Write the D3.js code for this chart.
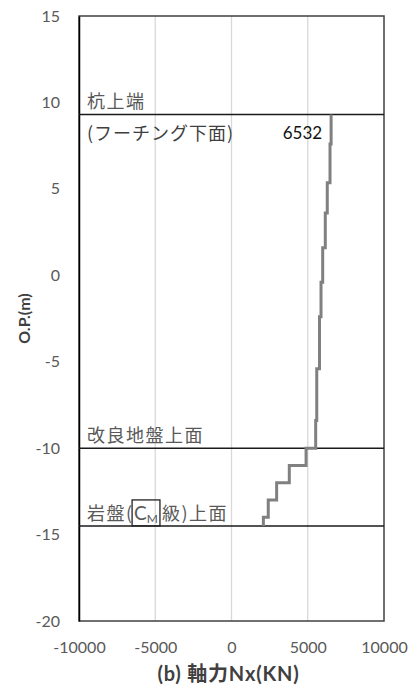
<!DOCTYPE html>
<html><head><meta charset="utf-8">
<script src="https://cdn.jsdelivr.net/npm/d3@7"></script>
<style>body{margin:0;background:#fff}svg{display:block}</style>
</head><body>
<script>
// Data
const stepTops = [9.3, 7.6, 5.35, 3.6, 1.6, -0.4, -2.4, -5.4, -8.4, -10, -11, -12, -13, -14];
const stepBottoms = [7.6, 5.35, 3.6, 1.6, -0.4, -2.4, -5.4, -8.4, -10, -11, -12, -13, -14, -14.5];
const axialForce = [6532, 6460, 6280, 6150, 5980, 5870, 5770, 5590, 5520, 4890, 3790, 2960, 2410, 2090];
const levelNames = ["杭上端", "改良地盤上面", "岩盤上面"];
const levelValues = [9.3, -10, -14.5];
const xTicks = [-10000, -5000, 0, 5000, 10000];
const yTicks = [15, 10, 5, 0, -5, -10, -15, -20];
const gridX = [-5000, 0, 5000];

const W = 413, H = 693;
const m = {l: 79, r: 29, t: 16, b: 72};
const svg = d3.select("body").append("svg").attr("width", W).attr("height", H);
const x = d3.scaleLinear().domain([-10000, 10000]).range([m.l, W - m.r]);
const y = d3.scaleLinear().domain([-20, 15]).range([H - m.b, m.t]);
const numFont = "Lato, 'Noto Sans CJK JP', sans-serif";
const jpFont = "'Noto Sans CJK JP', sans-serif";

// grid
svg.append("g").selectAll("line").data(gridX).join("line")
  .attr("x1", d => x(d)).attr("x2", d => x(d))
  .attr("y1", y(15)).attr("y2", y(-20))
  .attr("stroke", "#d9d9d9").attr("stroke-width", 1.3);

// frame
svg.append("rect").attr("x", x(-10000)).attr("y", y(15))
  .attr("width", x(10000) - x(-10000)).attr("height", y(-20) - y(15))
  .attr("fill", "none").attr("stroke", "#404040").attr("stroke-width", 1.5);

// axes
const ya = svg.append("g").attr("transform", `translate(${x(-10000)},0)`)
  .call(d3.axisLeft(y).tickValues(yTicks).tickFormat(d => String(d)).tickSize(0).tickPadding(19));
ya.select(".domain").attr("stroke", "#000").attr("stroke-width", 1.5);
ya.selectAll("text").attr("font-family", numFont).attr("font-size", 16).attr("fill", "#595959");

const xa = svg.append("g").attr("transform", `translate(0,${y(-20)})`)
  .call(d3.axisBottom(x).tickValues(xTicks).tickFormat(d => String(d)).tickSize(0).tickPadding(21));
xa.select(".domain").remove();
xa.selectAll("text").attr("font-family", numFont).attr("font-size", 16).attr("fill", "#595959");

// level lines
svg.append("g").selectAll("line").data(levelValues).join("line")
  .attr("x1", x(-10000)).attr("x2", x(10000))
  .attr("y1", d => y(d)).attr("y2", d => y(d))
  .attr("stroke", "#1a1a1a").attr("stroke-width", 1.5);

// step line
const pts = [];
axialForce.forEach((v, i) => { pts.push([v, stepTops[i]]); pts.push([v, stepBottoms[i]]); });
svg.append("path").datum(pts)
  .attr("d", d3.line().x(d => x(d[0])).y(d => y(d[1])))
  .attr("fill", "none").attr("stroke", "#808080").attr("stroke-width", 3);

// labels
const lx = x(-10000) + 8;
const jp = (sel) => sel.attr("font-family", jpFont).attr("font-size", 18)
  .attr("letter-spacing", 1.5).attr("fill", "#595959");
svg.append("text").attr("x", lx).attr("y", y(levelValues[0]) - 7).call(jp).text(levelNames[0]);
svg.append("text").attr("x", lx).attr("y", y(levelValues[0]) + 25).call(jp)
  .attr("letter-spacing", 1).attr("fill", "#404040").text("(フーチング下面)");
svg.append("text").attr("x", x(axialForce[0]) - 9).attr("y", y(levelValues[0]) + 24)
  .attr("text-anchor", "end").attr("font-family", numFont).attr("font-size", 17)
  .attr("fill", "#111").text(axialForce[0]);
svg.append("text").attr("x", lx).attr("y", y(levelValues[1]) - 6).call(jp).text(levelNames[1]);

const t3 = svg.append("text").attr("x", lx).attr("y", y(levelValues[2]) - 6).call(jp)
  .attr("letter-spacing", 0);
t3.append("tspan").attr("letter-spacing", 1.5).text("岩盤");
t3.append("tspan").text("(");
const cm = t3.append("tspan").attr("dx", 2).attr("font-family", numFont).attr("font-size", 19).text("C");
t3.append("tspan").attr("dy", 3).attr("font-family", numFont).attr("font-size", 12).text("M");
t3.append("tspan").attr("dx", 4).attr("dy", -3).attr("letter-spacing", 1.5).text("級)上面");
// box around CM
const n0 = cm.node().getStartPositionOfChar(0).x;
const mEnd = t3.node().getEndPositionOfChar(4).x;
svg.append("rect").attr("x", n0 - 2).attr("y", y(levelValues[2]) - 26)
  .attr("width", mEnd - n0 + 4).attr("height", 26)
  .attr("fill", "none").attr("stroke", "#222").attr("stroke-width", 1.3);

// axis titles
svg.append("text").attr("x", (x(-10000) + x(10000)) / 2 - 3).attr("y", 681)
  .attr("text-anchor", "middle").attr("font-family", numFont).attr("font-weight", "bold")
  .attr("font-size", 20).attr("letter-spacing", 0.8).attr("fill", "#404040").text("(b) 軸力Nx(KN)");
svg.append("text").attr("transform", `translate(30,${(y(15) + y(-20)) / 2}) rotate(-90)`)
  .attr("text-anchor", "middle").attr("font-family", numFont).attr("font-weight", "bold")
  .attr("font-size", 16).attr("fill", "#404040").text("O.P.(m)");
</script>
</body></html>
